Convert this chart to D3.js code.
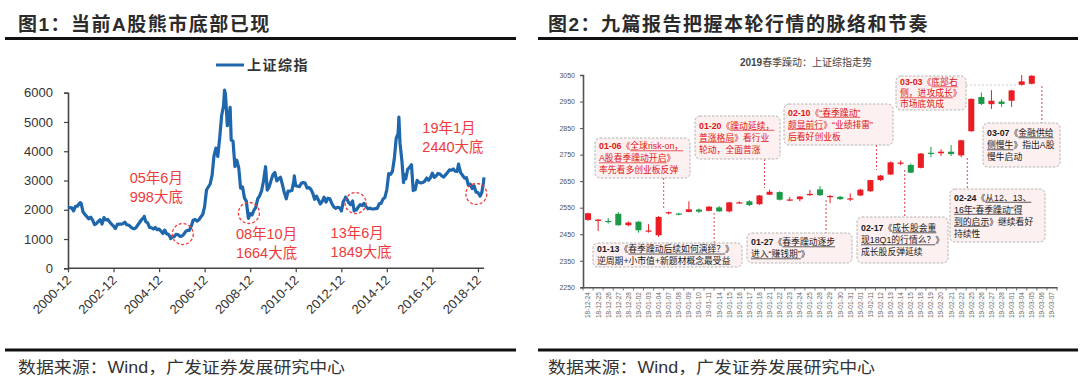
<!DOCTYPE html>
<html>
<head>
<meta charset="utf-8">
<script src="https://cdn.jsdelivr.net/npm/d3@7"></script>
<style>
  body { margin: 0; background: #fff; }
  svg { display: block; }
  text { font-family: "Liberation Sans", "Noto Sans CJK SC", sans-serif; }
</style>
</head>
<body>
<svg width="1080" height="387"></svg>
<script>
// ---- left chart: Shanghai Composite, month-end closes from 2000-11
const szStart = [2000, 10];
const szClose = [
  2071, 2073,
  2065, 1960, 2113, 2120, 2214, 2218, 1921, 1834, 1767, 1690, 1748, 1646,
  1491, 1524, 1603, 1657, 1515, 1732, 1651, 1668, 1581, 1509, 1445, 1358,
  1500, 1511, 1510, 1521, 1577, 1487, 1477, 1421, 1367, 1349, 1397, 1497,
  1590, 1675, 1742, 1595, 1555, 1399, 1386, 1342, 1396, 1320, 1340, 1266,
  1191, 1306, 1181, 1159, 1060, 1080, 1083, 1162, 1155, 1092, 1099, 1161,
  1258, 1299, 1298, 1440, 1641, 1672, 1612, 1658, 1753, 1837, 2099, 2675,
  2786, 2881, 3184, 3841, 4110, 3821, 4471, 5219, 5553, 5955, 4871, 5262,
  4383, 4348, 3473, 3693, 3433, 2736, 2776, 2397, 2293, 1729, 1871, 1821,
  1991, 2082, 2373, 2477, 2633, 2959, 3412, 2668, 2779, 2996, 3195, 3277,
  2989, 3051, 3110, 2871, 2592, 2398, 2638, 2639, 2656, 2979, 2820, 2808,
  2791, 2905, 2928, 2911, 2743, 2762, 2701, 2567, 2359, 2468, 2333, 2199,
  2292, 2428, 2262, 2397, 2373, 2225, 2103, 2047, 2086, 2069, 1980, 2269,
  2385, 2366, 2237, 2178, 2301, 1979, 1994, 2098, 2175, 2141, 2220, 2116,
  2033, 2056, 2033, 2026, 2039, 2048, 2202, 2217, 2364, 2420, 2683, 3235,
  3210, 3310, 3748, 4442, 4612, 4277, 3664, 3206, 3053, 3383, 3445, 3539,
  2738, 2688, 3004, 2938, 2917, 2930, 2979, 3085, 3005, 3100, 3250, 3104,
  3159, 3242, 3223, 3155, 3117, 3192, 3273, 3361, 3349, 3393, 3317, 3307,
  3481, 3259, 3169, 3082, 3095, 2847, 2876, 2725, 2821, 2603, 2588, 2494,
  2585, 2941
];
// intra-month highs / lows visible on the line
const szTurnDates = ['2001-06-13', '2004-04-07', '2005-06-03', '2007-10-16', '2008-01-14',
  '2008-11-04', '2009-08-04', '2010-07-02', '2010-11-08', '2012-12-03', '2013-02-06',
  '2013-06-25', '2015-06-12', '2015-08-26', '2016-01-28', '2018-01-24', '2019-01-03', '2019-03-07'];
const szTurnValues = [2242, 1777, 1013, 6092, 5497, 1707, 3471, 2373, 3159, 1959, 2434,
  1959, 5166, 2927, 2656, 3559, 2464, 3106];
const yearTicks = [2000, 2002, 2004, 2006, 2008, 2010, 2012, 2014, 2016, 2018];
const leftYTicks = [0, 1000, 2000, 3000, 4000, 5000, 6000];
const bottomLabels = [['05年6月', '998大底'], ['08年10月', '1664大底'], ['13年6月', '1849大底'], ['19年1月', '2440大底']];
const bottomDates = ['2005-12-15', '2008-11-10', '2013-07-18', '2018-11-05'];
const bottomValues = [1170, 1890, 2230, 2540];

// ---- right chart: daily candles
const dayLabels = ['18-12-24', '18-12-25', '18-12-26', '18-12-27', '18-12-28', '19-01-02', '19-01-03',
  '19-01-04', '19-01-07', '19-01-08', '19-01-09', '19-01-10', '19-01-11', '19-01-14', '19-01-15',
  '19-01-16', '19-01-17', '19-01-18', '19-01-21', '19-01-22', '19-01-23', '19-01-24', '19-01-25',
  '19-01-28', '19-01-29', '19-01-30', '19-01-31', '19-02-01', '19-02-11', '19-02-12', '19-02-13',
  '19-02-14', '19-02-15', '19-02-18', '19-02-19', '19-02-20', '19-02-21', '19-02-22', '19-02-25',
  '19-02-26', '19-02-27', '19-02-28', '19-03-01', '19-03-04', '19-03-05', '19-03-06', '19-03-07'];
const dayOpen = [2504, 2500, 2500, 2527, 2484, 2497, 2461, 2446, 2529, 2528, 2534, 2543, 2538, 2551,
  2536, 2569, 2574, 2563, 2599, 2609, 2579, 2582, 2597, 2619, 2592, 2591, 2583, 2596, 2612, 2654,
  2675, 2718, 2711, 2700, 2757, 2755, 2761, 2747, 2838, 2967, 2940, 2950, 2953, 3013, 3017, 3058, 3101];
const dayHigh = [2531, 2508, 2511, 2533, 2498, 2500, 2488, 2519, 2536, 2530, 2574, 2547, 2556, 2556,
  2572, 2574, 2578, 2598, 2618, 2612, 2590, 2594, 2617, 2631, 2598, 2594, 2604, 2621, 2655, 2673,
  2724, 2728, 2716, 2756, 2779, 2770, 2786, 2806, 2962, 2984, 2993, 2958, 2994, 3090, 3060, 3103, 3129];
const dayLow = [2500, 2462, 2490, 2482, 2480, 2456, 2456, 2440, 2524, 2521, 2533, 2530, 2536, 2535,
  2532, 2566, 2556, 2561, 2597, 2577, 2575, 2574, 2595, 2594, 2567, 2580, 2575, 2594, 2610, 2651,
  2673, 2710, 2680, 2698, 2741, 2745, 2745, 2740, 2836, 2937, 2922, 2930, 2930, 3010, 3014, 3050, 3087];
const dayClose = [2529, 2505, 2498, 2484, 2494, 2465, 2464, 2515, 2533, 2526, 2544, 2535, 2554, 2536,
  2570, 2570, 2560, 2596, 2610, 2580, 2581, 2592, 2602, 2597, 2594, 2582, 2585, 2618, 2654, 2671,
  2721, 2720, 2682, 2754, 2755, 2761, 2752, 2804, 2960, 2941, 2953, 2941, 2992, 3026, 3047, 3102, 3106];
const rightYTicks = [2250, 2350, 2450, 2550, 2650, 2750, 2850, 2950, 3050];

// report notes: ^ toggles bold, _ toggles underline
const reportNotes = [
  { red: true,  lines: ['^01-06^《_全球risk-on，_', '_A股春季躁动开启_》', '率先看多创业板反弹'] },
  { red: true,  lines: ['^01-20^《_躁动延续，_', '_普涨格局_》看行业', '轮动，全面普涨'] },
  { red: true,  lines: ['^02-10^《_“春季躁动”_', '_颇显前行_》“业绩排雷”', '后看好创业板'] },
  { red: true,  lines: ['^03-03^《_底部右_', '_侧，进攻成长_》', '市场底筑成'] },
  { red: false, lines: ['^03-07^《_金融供给_', '_侧慢牛_》指出A股', '慢牛启动'] },
  { red: false, lines: ['^01-13^《_春季躁动后续如何演绎？_》', '逆周期+小市值+新题材概念最受益'] },
  { red: false, lines: ['^01-27^《_春季躁动逐步_', '_进入“赚钱期”_》'] },
  { red: false, lines: ['^02-17^《_成长股会重_', '_现18Q1的行情么？_》', '成长股反弹延续'] },
  { red: false, lines: ['^02-24^《_从12、13、_', '_16年“春季躁动”得_', '_到的启示_》继续看好', '持续性'] }
];

const svg = d3.select('svg');
const RED = '#ee3b3b';
const BLUE = '#1e67ad';

// ---------- headers & footers
function header(x, lineX1, lineX2, label) {
  svg.append('text').attr('x', x).attr('y', 31)
    .attr('font-size', 19).attr('font-weight', 'bold').attr('letter-spacing', 1.5)
    .attr('fill', '#2b2b2b').text(label);
  svg.append('line').attr('x1', lineX1).attr('x2', lineX2).attr('y1', 38.5).attr('y2', 38.5)
    .attr('stroke', '#111').attr('stroke-width', 3);
}
header(18, 5, 516, '图1：当前A股熊市底部已现');
header(548, 538, 1078, '图2：九篇报告把握本轮行情的脉络和节奏');

[[18, 5, 516], [548, 538, 1078]].forEach(([x, a, b]) => {
  svg.append('line').attr('x1', a).attr('x2', b).attr('y1', 350).attr('y2', 350)
    .attr('stroke', '#111').attr('stroke-width', 3);
  svg.append('text').attr('x', x).attr('y', 373).attr('font-size', 16)
    .attr('textLength', 327).attr('lengthAdjust', 'spacingAndGlyphs')
    .attr('fill', '#333').text('数据来源：Wind，广发证券发展研究中心');
});

// ---------- left chart
const parseDay = d3.timeParse('%Y-%m-%d');
const series = szClose.map((v, i) => ({ date: new Date(szStart[0], szStart[1] + i + 1, 0), v }))
  .concat(szTurnDates.map((d, i) => ({ date: parseDay(d), v: szTurnValues[i] })))
  .sort((a, b) => a.date - b.date);

const xL = d3.scaleTime().domain([new Date(2000, 11, 1), new Date(2019, 2, 8)]).range([68, 484]);
const yL = d3.scaleLinear().domain([0, 6000]).range([268.3, 92.7]);

const gL = svg.append('g');
const yAxisL = gL.append('g').attr('transform', 'translate(68,0)')
  .call(d3.axisLeft(yL).tickValues(leftYTicks).tickSize(4).tickPadding(11).tickFormat(d3.format('d')));
yAxisL.selectAll('text').attr('font-size', 13).attr('fill', '#333');

const xAxisL = gL.append('g').attr('transform', 'translate(0,268.3)')
  .call(d3.axisBottom(xL).tickValues(yearTicks.map(y => new Date(y, 11, 1))).tickSize(4).tickFormat(''));
[yAxisL, xAxisL].forEach(a => {
  a.select('.domain').attr('stroke', '#444').attr('stroke-width', 1.6);
  a.selectAll('.tick line').attr('stroke', '#444').attr('stroke-width', 1.2);
});
xAxisL.select('.domain').attr('d', 'M68,0H484');

gL.selectAll('.xlab').data(yearTicks).enter().append('text')
  .attr('transform', d => `translate(${xL(new Date(d, 11, 1)) + 4},281) rotate(-45)`)
  .attr('text-anchor', 'end').attr('font-size', 13).attr('fill', '#333')
  .text(d => d + '-12');

gL.append('path').datum(series)
  .attr('d', d3.line().x(d => xL(d.date)).y(d => yL(d.v)))
  .attr('fill', 'none').attr('stroke', BLUE).attr('stroke-width', 3.2).attr('stroke-linejoin', 'round');

// legend
gL.append('line').attr('x1', 216).attr('x2', 244).attr('y1', 65).attr('y2', 65)
  .attr('stroke', BLUE).attr('stroke-width', 3);
gL.append('text').attr('x', 247).attr('y', 70).attr('font-size', 14).attr('font-weight', 'bold')
  .attr('letter-spacing', 1.5).attr('fill', '#333').text('上证综指');

// bottoms
const labelOffsets = [[-53, -51], [-13, 26], [-25, 35], [-54, -61]];
bottomDates.forEach((d, i) => {
  const cx = xL(parseDay(d)), cy = yL(bottomValues[i]);
  gL.append('circle').attr('cx', cx).attr('cy', cy).attr('r', 10.5)
    .attr('fill', 'none').attr('stroke', RED).attr('stroke-width', 1.3).attr('stroke-dasharray', '3,2');
  const t = gL.append('text').attr('font-size', 14.5).attr('fill', RED);
  bottomLabels[i].forEach((s, k) => {
    t.append('tspan').attr('x', cx + labelOffsets[i][0]).attr('y', cy + labelOffsets[i][1] + k * 19).text(s);
  });
});

// ---------- right chart
const xR = d3.scaleBand().domain(dayLabels).range([583, 1057]).paddingInner(0.4).paddingOuter(0.2);
const yR = d3.scaleLinear().domain([2250, 3050]).range([287.3, 75]);
const xAt = idx => xR(dayLabels[0]) + xR.bandwidth() / 2 + idx * xR.step();

const gR = svg.append('g');
const title = gR.append('text').attr('x', 806).attr('y', 66).attr('text-anchor', 'middle')
  .attr('font-size', 10).attr('fill', '#444');
title.append('tspan').attr('font-weight', 'bold').text('2019');
title.append('tspan').text('春季躁动：上证综指走势');

const yAxisR = gR.append('g').attr('transform', 'translate(583,0)')
  .call(d3.axisLeft(yR).tickValues(rightYTicks).tickSize(3).tickPadding(5).tickFormat(d3.format('d')));
yAxisR.selectAll('text').attr('font-size', 7).attr('fill', '#555');

const xAxisR = gR.append('g').attr('transform', 'translate(0,287.3)')
  .call(d3.axisBottom(xR).tickSize(0).tickFormat(''));
xAxisR.selectAll('.tick').remove();
[yAxisR, xAxisR].forEach(a => a.select('.domain').attr('stroke', '#555').attr('stroke-width', 1.6));
yAxisR.selectAll('.tick line').attr('stroke', '#555');

gR.selectAll('.bt').data(d3.range(dayLabels.length + 1)).enter().append('line')
  .attr('x1', i => xAt(i - 0.5)).attr('x2', i => xAt(i - 0.5))
  .attr('y1', 287.3).attr('y2', 290.5).attr('stroke', '#555').attr('stroke-width', 0.8);

gR.selectAll('.xl').data(dayLabels).enter().append('text')
  .attr('transform', d => `translate(${xR(d) + xR.bandwidth() / 2 + 2.4},292) rotate(-90)`)
  .attr('text-anchor', 'end').attr('font-size', 6.5).attr('fill', '#666').text(d => d);

svg.append('clipPath').attr('id', 'plotR').append('rect')
  .attr('x', 583).attr('y', 75).attr('width', 474).attr('height', 212.3);
const candles = gR.append('g').attr('clip-path', 'url(#plotR)')
  .selectAll('g').data(dayLabels).enter().append('g');
const candleColor = (d, i) => dayClose[i] >= dayOpen[i] ? '#ea1c24' : '#1d9a48';
candles.append('line')
  .attr('x1', d => xR(d) + xR.bandwidth() / 2).attr('x2', d => xR(d) + xR.bandwidth() / 2)
  .attr('y1', (d, i) => yR(dayHigh[i])).attr('y2', (d, i) => yR(dayLow[i]))
  .attr('stroke', candleColor).attr('stroke-width', 1);
candles.append('rect')
  .attr('x', d => xR(d)).attr('width', xR.bandwidth())
  .attr('y', (d, i) => yR(Math.max(dayOpen[i], dayClose[i])))
  .attr('height', (d, i) => Math.max(1.2, Math.abs(yR(dayOpen[i]) - yR(dayClose[i]))))
  .attr('fill', candleColor);

// note boxes layout
const noteLayout = [
  { box: [595, 138, 95, 40], conn: { idx: 7.5, y1: 178, y2: 208 } },
  { box: [695, 116, 85, 43], conn: { idx: 17.5, y1: 159, y2: 188 } },
  { box: [784, 104, 109, 41], conn: { idx: 28.6, y1: 145, y2: 170 } },
  { box: [896, 76, 70, 34], hconn: { x1: 966, idx: 42.6, y: 85 } },
  { box: [983, 123, 77, 44], conn: { idx: 45, y1: 86, y2: 123 } },
  { box: [593, 243, 149, 24], conn: { idx: 12.5, y1: 213, y2: 243 } },
  { box: [747, 233, 105, 30], conn: { idx: 23.6, y1: 200, y2: 233 } },
  { box: [857, 217, 91, 46], conn: { idx: 31.4, y1: 170, y2: 217 } },
  { box: [950, 189, 95, 53], conn: { idx: 37.6, y1: 158, y2: 189 } }
];
const gN = gR.append('g');
const FS = 8.8;
reportNotes.forEach((note, i) => {
  const L = noteLayout[i];
  const [bx, by, bw, bh] = L.box;
  const color = note.red ? '#e01515' : '#1a1a1a';
  if (L.conn) {
    gN.append('line').attr('x1', xAt(L.conn.idx)).attr('x2', xAt(L.conn.idx))
      .attr('y1', L.conn.y1).attr('y2', L.conn.y2)
      .attr('stroke', '#e04848').attr('stroke-width', 1).attr('stroke-dasharray', '2,2');
  }
  if (L.hconn) {
    gN.append('line').attr('x1', L.hconn.x1).attr('x2', xAt(L.hconn.idx))
      .attr('y1', L.hconn.y).attr('y2', L.hconn.y)
      .attr('stroke', '#c8c8c8').attr('stroke-width', 1).attr('stroke-dasharray', '2,2');
  }
  gN.append('rect').attr('x', bx).attr('y', by).attr('width', bw).attr('height', bh).attr('rx', 5)
    .attr('fill', '#fcf0f0').attr('stroke', '#b4b4b4').attr('stroke-width', 1).attr('stroke-dasharray', '2.5,1.5');
  const n = note.lines.length;
  const lh = Math.min(12, (bh - 1) / n);
  note.lines.forEach((ln, k) => {
    const base = by + (bh - n * lh) / 2 + lh * (k + 0.5) + FS * 0.36;
    const t = gN.append('text').attr('x', bx + 4).attr('y', base).attr('font-size', FS).attr('fill', color);
    let bold = false, under = false;
    const segs = [];
    ln.split(/([\^_])/).forEach(p => {
      if (p === '^') { bold = !bold; return; }
      if (p === '_') { under = !under; return; }
      if (!p) return;
      const s = t.append('tspan').attr('font-weight', bold ? 'bold' : null).text(p);
      segs.push({ node: s.node(), under });
    });
    let cx = bx + 4;
    segs.forEach(s => {
      const w = s.node.getComputedTextLength();
      if (s.under) {
        gN.append('line').attr('x1', cx).attr('x2', cx + w).attr('y1', base + 1.6).attr('y2', base + 1.6)
          .attr('stroke', color).attr('stroke-width', 0.7);
      }
      cx += w;
    });
  });
});
</script>
</body>
</html>
